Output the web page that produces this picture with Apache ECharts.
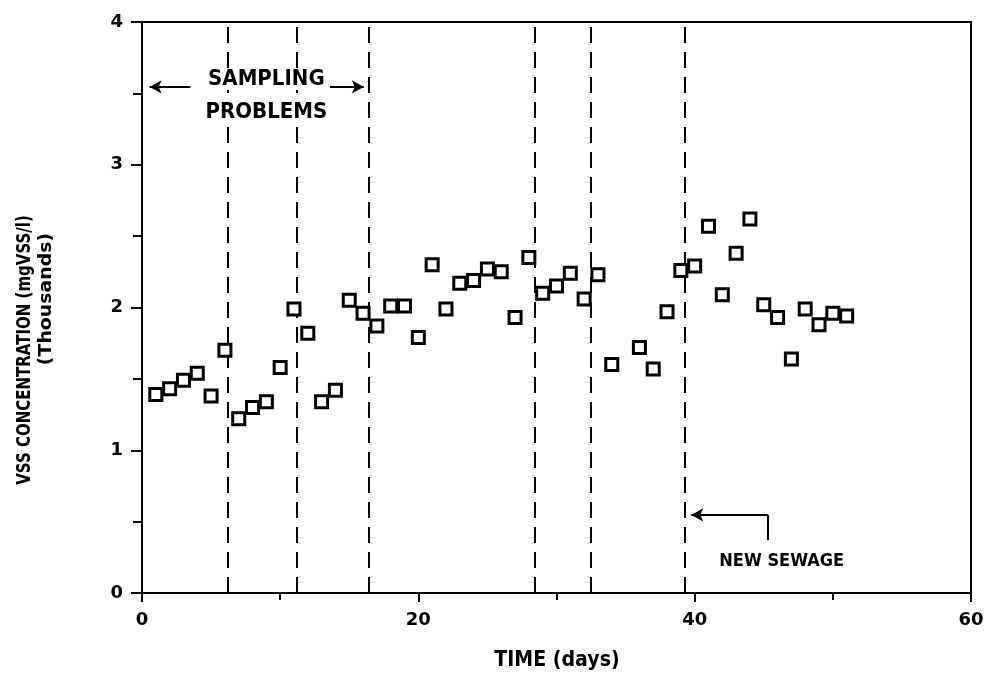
<!DOCTYPE html>
<html>
<head>
<meta charset="utf-8">
<script src="https://cdn.jsdelivr.net/npm/echarts@6/dist/echarts.min.js"></script>
<style>
  html, body { margin: 0; padding: 0; background: #fff; }
  #chart { width: 993px; height: 674px; }
</style>
</head>
<body>
<div id="chart"></div>
<script>
// 数据：时间(天) 与 VSS 浓度(千 mg/l)
const days = [1, 2, 3, 4, 5, 6, 7, 8, 9, 10, 11, 12, 13, 14, 15, 16, 17, 18, 19, 20,
  21, 22, 23, 24, 25, 26, 27, 28, 29, 30, 31, 32, 33, 34, 36, 37, 38, 39, 40,
  41, 42, 43, 44, 45, 46, 47, 48, 49, 50, 51];
const vss = [1.39, 1.43, 1.49, 1.54, 1.38, 1.70, 1.22, 1.30, 1.34, 1.58, 1.99, 1.82, 1.34, 1.42, 2.05, 1.96, 1.87, 2.01, 2.01, 1.79,
  2.30, 1.99, 2.17, 2.19, 2.27, 2.25, 1.93, 2.35, 2.10, 2.15, 2.24, 2.06, 2.23, 1.60, 1.72, 1.57, 1.97, 2.26, 2.29,
  2.57, 2.09, 2.38, 2.62, 2.02, 1.93, 1.64, 1.99, 1.88, 1.96, 1.94];
// 虚线位置
const breakDays = [6.2, 11.2, 16.4, 28.4, 32.5, 39.3];
// 注释
const noteText = ['SAMPLING', 'PROBLEMS', 'NEW SEWAGE'];
const notePos = [[9.0, 3.60], [9.0, 3.37], [46.3, 0.22]];
const noteSize = [22, 22, 18];
const arrowSegs = [
  [[3.5, 3.545], [0.55, 3.545]],
  [[13.6, 3.545], [16.05, 3.545]],
  [[45.3, 0.37], [45.3, 0.547]],
  [[45.3, 0.547], [39.75, 0.547]]
];
const arrowHead = [true, true, false, true];

let chart = echarts.init(document.getElementById('chart'));
let boldFont = '"DejaVu Sans", Verdana, sans-serif';
let plotFont = '"Liberation Sans Narrow", "DejaVu Sans Condensed", sans-serif';

let option = {
  backgroundColor: '#fff',
  animation: false,
  grid: {
    left: 142, right: 22, top: 22, bottom: 81,
    show: true, borderColor: '#000', borderWidth: 2
  },
  xAxis: {
    type: 'value', min: 0, max: 60, interval: 20,
    axisLine: { lineStyle: { color: '#000', width: 2 } },
    axisTick: { show: true, length: 9, lineStyle: { color: '#000', width: 2 } },
    minorTick: { show: true, splitNumber: 2, length: 7, lineStyle: { color: '#000', width: 2 } },
    splitLine: { show: false },
    axisLabel: { color: '#000', fontFamily: boldFont, fontWeight: 'bold', fontSize: 18, margin: 18 }
  },
  yAxis: {
    type: 'value', min: 0, max: 4, interval: 1,
    axisLine: { lineStyle: { color: '#000', width: 2 } },
    axisTick: { show: true, length: 11, lineStyle: { color: '#000', width: 2 } },
    minorTick: { show: true, splitNumber: 2, length: 9, lineStyle: { color: '#000', width: 2 } },
    splitLine: { show: false },
    axisLabel: { color: '#000', fontFamily: boldFont, fontWeight: 'bold', fontSize: 18, margin: 19 }
  },
  graphic: [
    {
      type: 'text', x: 25, y: 350, rotation: Math.PI / 2, origin: [0, 0], scaleY: 1.3,
      style: { text: 'VSS CONCENTRATION (mgVSS/l)', fill: '#000', font: 'bold 15px ' + boldFont,
        align: 'center', verticalAlign: 'middle' }
    },
    {
      type: 'text', x: 47, y: 299, rotation: Math.PI / 2, origin: [0, 0], scaleX: 1.35, scaleY: 1.2,
      style: { text: '(Thousands)', fill: '#000', font: 'bold 14px ' + boldFont,
        align: 'center', verticalAlign: 'middle' }
    },
    {
      type: 'text', x: 557, y: 660, scaleY: 1.15,
      style: { text: 'TIME (days)', fill: '#000', font: 'bold 19px ' + boldFont,
        align: 'center', verticalAlign: 'middle' }
    }
  ],
  series: [
    {
      name: 'VSS',
      type: 'scatter',
      symbol: 'rect',
      symbolSize: 12,
      itemStyle: { color: '#fff', borderColor: '#000', borderWidth: 3, opacity: 1 },
      data: days.map((d, i) => [d, vss[i]]),
      z: 5,
      markLine: {
        silent: true, symbol: ['none', 'none'], animation: false,
        label: { show: false },
        lineStyle: { color: '#000', width: 2, type: [16, 9] },
        data: breakDays.map(d => ({ xAxis: d }))
      }
    },
    {
      name: 'notes',
      type: 'scatter',
      symbolSize: 0,
      silent: true,
      z: 10,
      itemStyle: { opacity: 1 },
      data: notePos.map((p, i) => ({
        value: p, name: noteText[i],
        label: { fontSize: noteSize[i] }
      })),
      label: {
        show: true, position: 'inside', formatter: p => p.name,
        color: '#000', fontFamily: plotFont, fontWeight: 'bold', fontSize: 22,
        backgroundColor: '#fff', padding: [0, 1]
      },
      markLine: {
        silent: true, animation: false,
        label: { show: false },
        symbolSize: [10, 12],
        lineStyle: { color: '#000', width: 2, type: 'solid' },
        data: arrowSegs.map((s, i) => [
          { coord: s[0], symbol: 'none' },
          { coord: s[1], symbol: arrowHead[i] ? 'arrow' : 'none' }
        ])
      }
    }
  ]
};
chart.setOption(option);
</script>
</body>
</html>
